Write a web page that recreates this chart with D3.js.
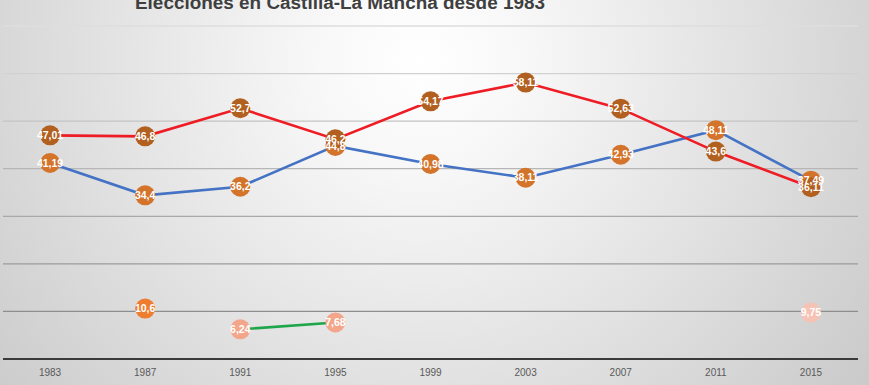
<!DOCTYPE html>
<html>
<head>
<meta charset="utf-8">
<script src="https://cdn.jsdelivr.net/npm/d3@7"></script>
<style>
  body { margin: 0; }
  svg { display: block; font-family: "Liberation Sans", Arial, sans-serif; }
</style>
</head>
<body>
<svg width="869" height="385"></svg>
<script>
// data
var years = ["1983", "1987", "1991", "1995", "1999", "2003", "2007", "2011", "2015"];
var psoe = [47.01, 46.8, 52.7, 46.2, 54.17, 58.11, 52.63, 43.6, 36.11];
var pp = [41.19, 34.4, 36.2, 44.8, 40.98, 38.11, 42.93, 48.11, 37.49];
var iu = [null, null, 6.24, 7.68, null, null, null, null, null];
var cds = [null, 10.6, null, null, null, null, null, null, null];
var podemos = [null, null, null, null, null, null, null, null, 9.75];
var gridTicks = [10, 20, 30, 40, 50, 60, 70];

var svg = d3.select("svg"),
    W = +svg.attr("width"),
    H = +svg.attr("height");

// background gradient
var defs = svg.append("defs");
var grad = defs.append("radialGradient")
    .attr("id", "bg")
    .attr("gradientUnits", "userSpaceOnUse")
    .attr("cx", 420).attr("cy", 60).attr("r", 680);
grad.append("stop").attr("offset", 0).attr("stop-color", "#ffffff");
grad.append("stop").attr("offset", 0.15).attr("stop-color", "#f8f8f8");
grad.append("stop").attr("offset", 1).attr("stop-color", "#bdbdbd");

svg.append("rect")
    .attr("width", W).attr("height", H)
    .attr("fill", "url(#bg)");

var x = d3.scaleBand().domain(years).range([2.5, 858.5]).padding(0);
var y = d3.scaleLinear().domain([0, 70]).range([359, 26]);
var gridColor = d3.scaleLinear().domain([10, 70]).range(["#8e8e8e", "#dedede"]);

// gridlines
svg.append("g")
  .selectAll("line")
  .data(gridTicks)
  .enter().append("line")
    .attr("x1", 3).attr("x2", 858)
    .attr("y1", function(d) { return y(d); })
    .attr("y2", function(d) { return y(d); })
    .attr("stroke", function(d) { return gridColor(d); })
    .attr("stroke-width", 1.3);

// x axis
var xAxis = svg.append("g")
    .attr("transform", "translate(0," + y(0) + ")")
    .call(d3.axisBottom(x).tickSize(0).tickPadding(10));
xAxis.select(".domain")
    .attr("d", "M3,0H858")
    .attr("stroke", "#3a3a3a")
    .attr("stroke-width", 2);
xAxis.selectAll("text")
    .attr("font-size", "10px")
    .attr("fill", "#595959")
    .attr("font-family", "Liberation Sans, Arial, sans-serif");

// title (cut at the top edge)
svg.append("text")
    .attr("x", 135)
    .attr("y", 9)
    .attr("textLength", 410)
    .attr("lengthAdjust", "spacingAndGlyphs")
    .attr("font-size", "18px")
    .attr("font-weight", "bold")
    .attr("fill", "#3f3f3f")
    .text("Elecciones en Castilla-La Mancha desde 1983");

var series = [
  {values: pp, line: "#4472c4", marker: "#d4732a"},
  {values: psoe, line: "#ee1c24", marker: "#b2601f"},
  {values: iu, line: "#1fa64a", marker: "#f3a68a"},
  {values: cds, line: "none", marker: "#ee7d30"},
  {values: podemos, line: "none", marker: "#f6c2b3"}
];

var cx = function(d) { return x(d.year) + x.bandwidth() / 2; };

var line = d3.line()
    .defined(function(d) { return d.v != null; })
    .x(cx)
    .y(function(d) { return y(d.v); });

var fmt = function(v) { return String(v).replace(".", ","); };

series.forEach(function(s) {
  s.pts = years.map(function(yr, i) { return {year: yr, v: s.values[i]}; });
  s.valid = s.pts.filter(function(d) { return d.v != null; });
});

// lines and markers per series, labels on top of everything
series.forEach(function(s) {
  var g = svg.append("g");
  if (s.line !== "none") {
    g.append("path")
      .datum(s.pts)
      .attr("fill", "none")
      .attr("stroke", s.line)
      .attr("stroke-width", 2.6)
      .attr("d", line);
  }
  g.selectAll("circle")
    .data(s.valid)
    .enter().append("circle")
      .attr("cx", cx)
      .attr("cy", function(d) { return y(d.v); })
      .attr("r", 10)
      .attr("fill", s.marker);
});

series.forEach(function(s) {
  svg.append("g").selectAll("text")
    .data(s.valid)
    .enter().append("text")
      .attr("x", cx)
      .attr("y", function(d) { return y(d.v); })
      .attr("dy", "0.35em")
      .attr("text-anchor", "middle")
      .attr("font-size", "10.5px")
      .attr("font-weight", "bold")
      .attr("fill", "#ffffff")
      .text(function(d) { return fmt(d.v); });
});
</script>
</body>
</html>
